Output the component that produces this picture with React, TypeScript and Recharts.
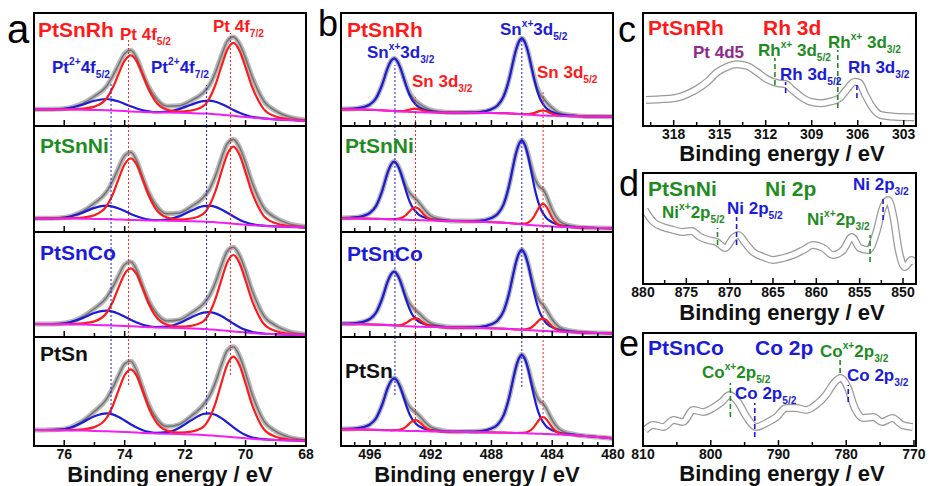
import React from 'react';
import { LineChart, Line, XAxis, YAxis, ReferenceLine } from 'recharts';

const FONT = '"Liberation Sans", Arial, Helvetica, sans-serif';
const RED = '#ff1a1a';
const BLUE = '#1c1cd8';
const GREEN = '#1f8c1f';
const PURPLE = '#8e2a8e';
const MAGENTA = '#f020f0';

// ---- panel a: Pt 4f (binding energy, eV) ----
const ptEnergy = [77, 76.6, 76.2, 75.8, 75.4, 75.0, 74.6, 74.4, 74.2, 74.0, 73.8, 73.6, 73.4, 73.2, 73.0, 72.6, 72.2, 71.8, 71.4, 71.2, 71.0, 70.8, 70.6, 70.4, 70.2, 70.0, 69.8, 69.6, 69.4, 69.0, 68.6, 68.0];

const rhPtBase = [16.7, 16.6, 16.5, 16.4, 16.2, 16.0, 15.7, 15.5, 15.2, 14.9, 14.6, 14.3, 14.0, 13.8, 13.6, 13.4, 13.2, 12.9, 12.5, 12.2, 11.8, 11.3, 10.8, 10.2, 9.6, 9.0, 8.4, 7.9, 7.4, 6.6, 6.0, 5.3];
const rhPtRed = [16.7, 16.6, 16.6, 16.7, 17.3, 19.4, 27.5, 37.9, 52.2, 65.3, 70.6, 64.7, 51.0, 36.2, 25.4, 16.3, 14.5, 15.5, 19.8, 27.5, 41.0, 59.5, 76.5, 83.2, 75.3, 58.6, 40.5, 26.9, 16.9, 9.5, 6.9, 5.3];
const rhPtBlue = [16.7, 16.7, 16.8, 18.1, 21.3, 25.3, 27.0, 26.2, 24.5, 22.1, 19.7, 17.5, 15.7, 14.6, 13.9, 14.4, 16.9, 21.3, 24.9, 25.3, 24.2, 22.0, 19.2, 16.1, 13.3, 11.0, 9.3, 8.3, 7.6, 6.6, 6.0, 5.3];
const rhPtGray = [16.7, 16.7, 16.9, 18.4, 22.4, 29.7, 39.8, 49.6, 61.5, 72.5, 75.7, 67.9, 52.7, 39.0, 29.2, 19.8, 20.2, 25.4, 33.2, 40.6, 53.4, 70.2, 84.9, 89.1, 82.0, 67.6, 50.4, 36.3, 25.1, 15.0, 9.4, 6.0];

const niPtBase = [13.7, 13.6, 13.5, 13.4, 13.3, 13.1, 12.9, 12.7, 12.5, 12.3, 12.1, 11.9, 11.7, 11.6, 11.5, 11.3, 11.1, 10.8, 10.4, 10.1, 9.7, 9.3, 8.8, 8.3, 7.8, 7.3, 6.8, 6.4, 6.1, 5.6, 5.2, 4.7];
const niPtRed = [13.7, 13.6, 13.6, 13.7, 14.5, 16.8, 25.8, 37.3, 53.2, 67.7, 73.7, 67.3, 52.4, 36.2, 24.4, 14.5, 12.5, 13.5, 18.1, 26.3, 40.5, 60.1, 78.1, 85.3, 77.1, 59.7, 40.7, 26.4, 16.1, 8.7, 6.1, 4.7];
const niPtBlue = [13.7, 13.7, 13.9, 15.4, 19.3, 24.1, 26.3, 25.4, 23.5, 20.9, 18.1, 15.7, 13.7, 12.5, 11.9, 12.5, 15.6, 21.2, 25.8, 26.3, 25.1, 22.6, 19.2, 15.6, 12.3, 9.7, 7.9, 6.9, 6.3, 5.6, 5.2, 4.7];
const niPtGray = [13.7, 13.7, 14.0, 15.7, 20.5, 28.8, 40.2, 51.0, 64.2, 76.3, 79.7, 71.1, 54.4, 39.1, 28.3, 18.2, 19.0, 25.4, 34.5, 42.5, 55.9, 73.4, 88.5, 92.6, 84.6, 69.1, 50.8, 35.9, 24.3, 14.2, 8.6, 5.4];

const coPtBase = [13.0, 12.9, 12.8, 12.6, 12.4, 12.1, 11.8, 11.6, 11.3, 11.0, 10.7, 10.4, 10.1, 9.8, 9.6, 9.2, 8.9, 8.5, 8.0, 7.6, 7.2, 6.7, 6.2, 5.6, 5.0, 4.5, 4.0, 3.6, 3.3, 2.8, 2.4, 2.0];
const coPtRed = [13.0, 12.9, 12.9, 12.9, 13.6, 15.6, 24.0, 34.8, 49.6, 63.2, 68.7, 62.6, 48.4, 33.0, 21.8, 12.2, 10.3, 11.2, 15.6, 23.6, 37.8, 57.1, 75.0, 82.0, 73.8, 56.5, 37.6, 23.5, 13.2, 5.9, 3.3, 2.0];
const coPtBlue = [13.0, 13.0, 13.2, 14.8, 18.9, 24.0, 26.3, 25.4, 23.2, 20.3, 17.2, 14.5, 12.3, 10.8, 10.0, 10.5, 13.7, 19.6, 24.4, 24.9, 23.6, 20.9, 17.3, 13.4, 9.8, 7.1, 5.2, 4.1, 3.5, 2.8, 2.4, 2.0];
const coPtGray = [13.0, 13.0, 13.3, 15.1, 20.1, 28.5, 39.5, 49.6, 61.5, 72.5, 75.2, 66.7, 50.6, 36.0, 25.7, 16.0, 17.1, 23.8, 33.0, 40.9, 54.2, 71.3, 86.1, 89.8, 81.6, 66.1, 47.8, 33.0, 21.4, 11.4, 5.8, 2.7];

const snPtBase = [16.0, 15.9, 15.8, 15.6, 15.4, 15.1, 14.8, 14.6, 14.3, 14.0, 13.7, 13.4, 13.1, 12.8, 12.6, 12.2, 11.9, 11.5, 11.0, 10.6, 10.2, 9.7, 9.2, 8.7, 8.2, 7.7, 7.2, 6.8, 6.5, 6.0, 5.7, 5.3];
const snPtRed = [16.0, 15.9, 15.9, 15.9, 16.7, 18.9, 28.0, 39.8, 55.9, 70.7, 76.7, 70.1, 54.7, 38.0, 25.8, 15.4, 13.3, 14.3, 19.1, 27.5, 42.4, 62.9, 81.7, 89.3, 80.7, 62.5, 42.7, 27.8, 17.0, 9.2, 6.7, 5.3];
const snPtBlue = [16.0, 16.0, 16.3, 18.3, 23.5, 29.8, 32.7, 31.6, 29.0, 25.5, 21.8, 18.4, 15.8, 14.1, 13.1, 13.8, 18.1, 25.6, 32.0, 32.7, 31.2, 27.8, 23.3, 18.6, 14.4, 11.0, 8.7, 7.5, 6.8, 6.0, 5.7, 5.3];
const snPtGray = [16.0, 16.1, 16.4, 18.6, 24.8, 34.6, 46.9, 57.8, 70.6, 82.2, 84.8, 75.1, 57.4, 41.3, 29.8, 19.5, 21.5, 29.9, 41.1, 49.6, 63.4, 81.0, 95.8, 99.2, 89.9, 72.8, 53.2, 37.5, 25.3, 14.7, 9.2, 6.0];

// ---- panel b: Sn 3d ----
const snEnergy = [498.0, 497.4, 496.8, 496.4, 496.0, 495.6, 495.2, 494.8, 494.6, 494.4, 494.2, 494.0, 493.8, 493.6, 493.4, 493.2, 493.0, 492.8, 492.6, 492.4, 492.0, 491.4, 490.6, 489.6, 488.8, 488.0, 487.6, 487.2, 486.8, 486.6, 486.4, 486.2, 486.0, 485.8, 485.6, 485.4, 485.2, 485.0, 484.8, 484.6, 484.4, 484.2, 484.0, 483.6, 483.2, 482.6, 481.8, 481.0, 480.0];

const rhSnBase = [16.7, 16.6, 16.5, 16.4, 16.2, 16.0, 15.7, 15.3, 15.1, 14.9, 14.7, 14.5, 14.3, 14.2, 14.1, 14.0, 13.9, 13.8, 13.7, 13.6, 13.5, 13.4, 13.3, 13.2, 13.1, 13.0, 12.9, 12.8, 12.6, 12.4, 12.2, 12.0, 11.8, 11.6, 11.4, 11.2, 11.0, 10.8, 10.6, 10.5, 10.4, 10.3, 10.2, 10.0, 9.9, 9.8, 9.6, 9.5, 9.3];
const rhSnBlue = [17.0, 17.1, 17.8, 19.0, 21.5, 27.6, 41.0, 59.1, 65.3, 67.7, 64.9, 58.3, 49.1, 39.5, 31.5, 25.6, 21.8, 19.1, 17.4, 16.2, 14.8, 13.9, 13.4, 13.6, 14.0, 16.8, 20.5, 29.5, 49.0, 62.5, 75.2, 84.1, 87.7, 83.7, 74.4, 61.3, 47.4, 35.8, 27.3, 21.9, 18.0, 15.6, 14.0, 11.9, 10.8, 10.3, 9.6, 9.5, 9.3];
const rhSnRed = [16.7, 16.6, 16.5, 16.4, 16.2, 16.0, 15.7, 15.3, 15.1, 15.0, 14.9, 14.8, 15.0, 15.6, 16.3, 17.1, 17.3, 16.9, 15.9, 15.0, 13.8, 13.4, 13.3, 13.2, 13.1, 13.0, 12.9, 12.8, 12.6, 12.4, 12.2, 12.0, 11.9, 11.9, 11.9, 12.3, 13.0, 14.1, 15.1, 15.5, 14.9, 13.6, 12.2, 10.5, 10.0, 9.8, 9.6, 9.5, 9.3];
const rhSnGray = [17.0, 17.1, 17.8, 19.0, 21.5, 27.6, 41.0, 59.1, 65.3, 67.8, 65.1, 58.6, 49.8, 40.9, 33.7, 28.7, 25.2, 22.7, 20.6, 18.8, 16.1, 14.4, 13.4, 13.6, 14.0, 16.8, 20.5, 29.5, 49.0, 62.5, 75.2, 84.1, 87.8, 84.0, 74.9, 62.4, 49.4, 39.1, 31.8, 27.9, 24.0, 20.7, 17.8, 13.6, 11.7, 10.6, 9.6, 9.5, 9.3];

const niSnBase = [13.7, 13.6, 13.5, 13.4, 13.3, 13.2, 13.0, 12.8, 12.7, 12.6, 12.5, 12.4, 12.3, 12.2, 12.1, 12.0, 12.0, 11.9, 11.8, 11.7, 11.5, 11.3, 11.0, 10.6, 10.2, 9.8, 9.6, 9.3, 8.9, 8.6, 8.3, 8.0, 7.7, 7.4, 7.1, 6.9, 6.7, 6.5, 6.3, 6.1, 5.9, 5.7, 5.5, 5.2, 4.9, 4.6, 4.3, 4.0, 3.7];
const niSnBlue = [14.0, 14.2, 14.9, 16.3, 19.1, 25.9, 40.7, 60.7, 67.5, 70.3, 67.3, 60.3, 50.4, 39.9, 31.1, 24.7, 20.7, 17.7, 15.8, 14.6, 12.9, 11.9, 11.1, 11.0, 11.2, 14.0, 18.0, 27.7, 49.0, 63.8, 77.7, 87.4, 91.3, 86.8, 76.5, 62.1, 46.8, 34.1, 24.7, 18.6, 14.3, 11.6, 9.7, 7.3, 5.9, 5.1, 4.3, 4.0, 3.7];
const niSnRed = [13.7, 13.6, 13.5, 13.4, 13.3, 13.2, 13.0, 12.9, 12.8, 12.9, 13.1, 13.7, 15.0, 17.3, 20.5, 23.4, 24.7, 23.3, 20.2, 16.8, 12.8, 11.4, 11.0, 10.6, 10.2, 9.8, 9.6, 9.3, 8.9, 8.6, 8.3, 8.2, 8.3, 8.5, 9.3, 11.5, 15.5, 21.0, 26.1, 28.1, 25.7, 20.2, 14.3, 7.4, 5.5, 4.6, 4.3, 4.0, 3.7];
const niSnGray = [14.0, 14.2, 14.9, 16.3, 19.1, 25.9, 40.7, 60.8, 67.6, 70.6, 67.9, 61.6, 53.1, 45.0, 39.5, 36.1, 33.4, 30.1, 26.2, 22.2, 16.2, 13.0, 11.1, 11.0, 11.2, 14.0, 18.0, 27.7, 49.0, 63.8, 77.7, 87.6, 91.9, 87.9, 78.7, 66.7, 55.6, 48.6, 44.5, 42.6, 37.1, 29.6, 22.0, 12.0, 8.0, 5.6, 4.3, 4.0, 3.7];

const coSnBase = [13.0, 12.9, 12.8, 12.7, 12.6, 12.4, 12.2, 11.9, 11.7, 11.5, 11.3, 11.1, 10.9, 10.8, 10.7, 10.5, 10.4, 10.3, 10.2, 10.1, 10.0, 9.8, 9.6, 9.3, 9.0, 8.7, 8.5, 8.3, 8.0, 7.8, 7.6, 7.4, 7.2, 7.0, 6.9, 6.7, 6.6, 6.4, 6.3, 6.1, 6.0, 5.8, 5.7, 5.4, 5.1, 4.8, 4.4, 4.0, 3.7];
const coSnBlue = [13.3, 13.4, 14.1, 15.4, 18.0, 24.2, 38.0, 56.6, 62.8, 65.3, 62.4, 55.8, 46.4, 36.6, 28.5, 22.3, 18.5, 15.7, 14.0, 12.8, 11.3, 10.3, 9.7, 9.7, 10.0, 12.7, 16.5, 25.9, 46.3, 60.5, 73.8, 83.2, 87.0, 82.8, 73.1, 59.4, 44.9, 32.7, 23.9, 18.1, 14.0, 11.4, 9.7, 7.4, 6.1, 5.3, 4.4, 4.0, 3.7];
const coSnRed = [13.0, 12.9, 12.8, 12.7, 12.6, 12.4, 12.2, 11.9, 11.8, 11.7, 11.7, 11.9, 12.7, 14.2, 16.2, 18.1, 18.8, 17.9, 15.7, 13.5, 10.8, 9.9, 9.6, 9.3, 9.0, 8.7, 8.5, 8.3, 8.0, 7.8, 7.6, 7.5, 7.5, 7.6, 8.1, 9.3, 11.6, 14.6, 17.5, 18.5, 17.2, 14.0, 10.7, 6.6, 5.4, 4.8, 4.4, 4.0, 3.7];
const coSnGray = [13.3, 13.4, 14.1, 15.4, 18.0, 24.2, 38.0, 56.6, 62.9, 65.5, 62.8, 56.6, 48.2, 40.0, 34.0, 29.9, 26.9, 24.1, 21.1, 18.2, 13.7, 11.2, 9.7, 9.7, 10.0, 12.7, 16.5, 25.9, 46.3, 60.5, 73.8, 83.3, 87.3, 83.4, 74.3, 62.0, 49.9, 40.9, 35.1, 32.1, 27.6, 22.4, 17.5, 10.6, 7.6, 5.7, 4.4, 4.0, 3.7];

const snSnBase = [16.7, 16.6, 16.5, 16.4, 16.3, 16.1, 15.9, 15.7, 15.6, 15.5, 15.4, 15.3, 15.2, 15.1, 15.1, 15.0, 15.0, 14.9, 14.8, 14.7, 14.6, 14.4, 14.2, 14.0, 13.8, 13.6, 13.5, 13.4, 13.2, 13.1, 13.0, 12.9, 12.8, 12.7, 12.6, 12.5, 12.4, 12.3, 12.2, 12.1, 12.0, 11.9, 11.8, 11.5, 11.2, 10.8, 10.0, 9.0, 7.7];
const snSnBlue = [17.0, 17.1, 17.8, 19.0, 21.5, 27.6, 41.0, 59.0, 65.2, 67.7, 65.0, 58.6, 49.7, 40.2, 32.3, 26.5, 22.8, 20.1, 18.5, 17.3, 15.9, 14.9, 14.3, 14.4, 14.7, 17.5, 21.3, 30.6, 50.7, 64.7, 77.9, 87.2, 91.0, 87.0, 77.5, 64.1, 49.9, 38.1, 29.4, 23.8, 19.8, 17.4, 15.7, 13.5, 12.1, 11.3, 10.0, 9.0, 7.7];
const snSnRed = [16.7, 16.6, 16.5, 16.4, 16.3, 16.1, 15.9, 15.8, 15.7, 15.8, 16.0, 16.4, 17.5, 19.5, 22.4, 24.9, 26.0, 24.8, 22.1, 19.1, 15.7, 14.5, 14.2, 14.0, 13.8, 13.6, 13.5, 13.4, 13.2, 13.1, 13.0, 13.1, 13.2, 13.5, 14.3, 16.0, 19.1, 23.3, 27.2, 28.8, 27.0, 22.9, 18.5, 13.2, 11.6, 10.8, 10.0, 9.0, 7.7];
const snSnGray = [17.0, 17.1, 17.8, 19.0, 21.5, 27.6, 41.0, 59.1, 65.3, 68.0, 65.6, 59.7, 52.0, 44.6, 39.6, 36.4, 33.8, 31.0, 27.8, 24.2, 19.0, 16.0, 14.3, 14.4, 14.7, 17.5, 21.3, 30.6, 50.7, 64.7, 77.9, 87.4, 91.4, 87.8, 79.2, 67.6, 56.6, 49.1, 44.4, 42.5, 37.8, 31.9, 25.9, 17.7, 14.0, 11.8, 10.0, 9.0, 7.7];

// ---- panels c, d, e: raw spectra ----
const rhEnergy = [319.8, 318.9, 318.0, 317.1, 316.5, 315.8, 315.2, 314.5, 313.9, 313.2, 312.6, 311.9, 311.2, 310.7, 310.3, 309.7, 309.1, 308.4, 307.8, 307.2, 306.7, 306.2, 305.9, 305.5, 305.0, 304.5, 303.6, 302.3];
const rhCounts = [26, 26.7, 27.7, 32, 36.7, 44.3, 53.3, 59.3, 61.7, 60, 54.3, 46.7, 42.7, 42, 36.7, 29.3, 24.3, 22.7, 24.3, 27.7, 36.7, 44.3, 43.3, 31, 17.7, 11, 9.3, 8.7];

const niEnergy = [879.8, 878.8, 877.7, 876.5, 875.5, 874.4, 873.4, 872.5, 871.5, 870.5, 869.6, 869.0, 868.2, 867.3, 866.1, 865.0, 863.8, 862.7, 861.5, 860.4, 859.2, 858.1, 856.9, 855.9, 855.0, 854.0, 853.1, 852.3, 851.7, 851.1, 850.5, 849.8, 849.0, 848.6];
const niCounts = [74, 62, 57, 54, 52, 53, 47, 44, 42, 36, 46, 49, 41, 32, 27, 24, 26, 29, 34, 39, 36, 29, 34, 47, 36, 34, 51, 77, 84, 67, 34, 17, 24, 21];

const coEnergy = [809.7, 808.5, 807.0, 805.5, 804.1, 802.6, 801.1, 799.7, 798.4, 797.2, 796.0, 794.7, 793.3, 791.8, 790.3, 788.9, 787.4, 785.9, 784.5, 783.0, 781.8, 780.8, 779.8, 778.8, 777.5, 776.0, 774.7, 773.2, 771.7, 770.2];
const coCounts = [16, 21, 19, 26, 24, 36, 34, 38, 44, 51, 44, 29, 19, 23, 29, 38, 38, 36, 41, 51, 63, 68, 59, 39, 28, 29, 24, 28, 21, 19];

// ---- axis ticks ----
const aTicks = [68, 69, 70, 71, 72, 73, 74, 75, 76, 77];
const aMajor = [68, 70, 72, 74, 76];
const bTicks = [480, 481, 482, 483, 484, 485, 486, 487, 488, 489, 490, 491, 492, 493, 494, 495, 496, 497];
const bMajor = [480, 484, 488, 492, 496];
const cTicks = [303, 304.5, 306, 307.5, 309, 310.5, 312, 313.5, 315, 316.5, 318, 319.5];
const cMajor = [303, 306, 309, 312, 315, 318];
const dTicks = [850, 852.5, 855, 857.5, 860, 862.5, 865, 867.5, 870, 872.5, 875, 877.5, 880];
const dMajor = [850, 855, 860, 865, 870, 875, 880];
const eTicks = [770, 775, 780, 785, 790, 795, 800, 805, 810];
const eMajor = [770, 780, 790, 800, 810];

const zipRows = (energy: number[], cols: Record<string, number[]>) =>
  energy.map((e, i) => {
    const r: Record<string, number> = { e };
    for (const k in cols) r[k] = cols[k][i];
    return r;
  });

const makeTick = (major: number[], showText: boolean) => (props: any) => {
  const { x, y, payload } = props;
  const isMajor = major.includes(payload.value);
  return (
    <g>
      <line x1={x} x2={x} y1={y} y2={y - (isMajor ? 6 : 4)} stroke="#000" strokeWidth={1.5} />
      {showText && isMajor && (
        <text x={x} y={y + 13} textAnchor="middle" fontSize={14} fontWeight="bold" fontFamily={FONT} fill="#111">
          {payload.value}
        </text>
      )}
    </g>
  );
};

type Ref = { x: number; color: string; from?: number; to?: number; dash?: string };

const PAD = 24; // room either side so edge tick labels are not clipped

function Frame(props: {
  left: number; top: number; w: number; h: number;
  domain: [number, number]; rows: any[]; ticks: number[]; major: number[];
  labels: boolean; refs: Ref[]; fit: boolean;
}) {
  const { left, top, w, h, domain, rows, ticks, major, labels, refs, fit } = props;
  return (
    <div style={{ position: 'absolute', left: left - PAD, top }}>
      <LineChart width={w + 2 * PAD} height={h + 26} data={rows} margin={{ top: 0, right: PAD, bottom: 0, left: PAD }}>
        <XAxis
          type="number"
          dataKey="e"
          domain={domain}
          reversed
          allowDataOverflow
          ticks={ticks}
          interval={0}
          height={26}
          axisLine={false}
          tickLine={false}
          tickSize={0}
          tickMargin={0}
          tick={makeTick(major, labels)}
        />
        <YAxis hide domain={[0, h]} allowDataOverflow />
        {fit ? (
          [
            <Line key="g1" dataKey="gray" type="monotone" stroke="#b8b8b8" strokeWidth={5} dot={false} activeDot={false} isAnimationActive={false} />,
            <Line key="g2" dataKey="gray" type="monotone" stroke="#757575" strokeWidth={1.6} dot={false} activeDot={false} isAnimationActive={false} />,
            <Line key="bl" dataKey="blue" type="monotone" stroke={BLUE} strokeWidth={2.2} dot={false} activeDot={false} isAnimationActive={false} />,
            <Line key="rd" dataKey="red" type="monotone" stroke={RED} strokeWidth={2.2} dot={false} activeDot={false} isAnimationActive={false} />,
            <Line key="bs" dataKey="base" type="monotone" stroke={MAGENTA} strokeWidth={2} dot={false} activeDot={false} isAnimationActive={false} />,
          ]
        ) : (
          [
            <Line key="t1" dataKey="v" type="monotone" stroke="#9a9a9a" strokeWidth={8} dot={false} activeDot={false} isAnimationActive={false} />,
            <Line key="t2" dataKey="v" type="monotone" stroke="#ffffff" strokeWidth={5.5} dot={false} activeDot={false} isAnimationActive={false} />,
          ]
        )}
        {refs.map((r, i) =>
          r.from !== undefined ? (
            <ReferenceLine
              key={i}
              segment={[{ x: r.x, y: r.from }, { x: r.x, y: r.to as number }]}
              stroke={r.color}
              strokeWidth={r.dash ? 1.6 : 1}
              strokeDasharray={r.dash || '2 2'}
            />
          ) : (
            <ReferenceLine key={i} x={r.x} stroke={r.color} strokeWidth={1} strokeDasharray="2 2" />
          )
        )}
      </LineChart>
      <div
        style={{
          position: 'absolute', left: PAD - 1, top: -1, width: w + 2, height: h + 2,
          border: '2px solid #000', boxSizing: 'border-box', pointerEvents: 'none',
        }}
      />
    </div>
  );
}

const Sub = ({ children }: any) => (
  <span style={{ fontSize: '0.6em', position: 'relative', top: '0.55em' }}>{children}</span>
);
const Sup = ({ children }: any) => (
  <span style={{ fontSize: '0.6em', position: 'relative', top: '-0.75em' }}>{children}</span>
);

function T({ x, y, size = 17, color = '#000', bold = true, children }: any) {
  return (
    <div
      style={{
        position: 'absolute', left: x, top: y - 0.49 * size, fontSize: size, lineHeight: 1,
        fontWeight: bold ? 'bold' : 'normal', color, whiteSpace: 'nowrap', fontFamily: FONT,
      }}
    >
      {children}
    </div>
  );
}

function Letter({ x, base, size = 36, children }: any) {
  return (
    <div style={{ position: 'absolute', left: x, top: base - 0.85 * size, fontSize: size, lineHeight: 1, fontFamily: FONT, color: '#000' }}>
      {children}
    </div>
  );
}

// title box is tight (line-height 0.8) so it does not run into the tick labels above
function Title({ cx, y }: { cx: number; y: number }) {
  return (
    <div
      style={{
        position: 'absolute', left: cx - 110, width: 220, top: y - 0.39 * 22, textAlign: 'center',
        fontSize: 22, lineHeight: 0.8, fontWeight: 'bold', fontFamily: FONT, color: '#111', whiteSpace: 'nowrap',
      }}
    >
      Binding energy / eV
    </div>
  );
}

const ptRows = [
  zipRows(ptEnergy, { gray: rhPtGray, red: rhPtRed, blue: rhPtBlue, base: rhPtBase }),
  zipRows(ptEnergy, { gray: niPtGray, red: niPtRed, blue: niPtBlue, base: niPtBase }),
  zipRows(ptEnergy, { gray: coPtGray, red: coPtRed, blue: coPtBlue, base: coPtBase }),
  zipRows(ptEnergy, { gray: snPtGray, red: snPtRed, blue: snPtBlue, base: snPtBase }),
];
const snRows = [
  zipRows(snEnergy, { gray: rhSnGray, red: rhSnRed, blue: rhSnBlue, base: rhSnBase }),
  zipRows(snEnergy, { gray: niSnGray, red: niSnRed, blue: niSnBlue, base: niSnBase }),
  zipRows(snEnergy, { gray: coSnGray, red: coSnRed, blue: coSnBlue, base: coSnBase }),
  zipRows(snEnergy, { gray: snSnGray, red: snSnRed, blue: snSnBlue, base: snSnBase }),
];

const rowTops = [13, 126, 232, 337];
const rowHeights = [113, 106, 105, 109];

const ptRefs: Ref[][] = [
  [
    { x: 73.87, color: RED, from: 0, to: 86 }, { x: 70.5, color: RED, from: 0, to: 93 },
    { x: 74.45, color: BLUE, from: 0, to: 44 }, { x: 71.29, color: BLUE, from: 0, to: 41 },
  ],
  [{ x: 73.87, color: RED }, { x: 70.5, color: RED }, { x: 74.45, color: BLUE }, { x: 71.29, color: BLUE }],
  [{ x: 73.87, color: RED }, { x: 70.5, color: RED }, { x: 74.45, color: BLUE }, { x: 71.29, color: BLUE }],
  [
    { x: 73.87, color: RED, from: 61, to: 109 }, { x: 70.5, color: RED, from: 71, to: 109 },
    { x: 74.45, color: BLUE, from: 33, to: 109 }, { x: 71.29, color: BLUE, from: 33, to: 109 },
  ],
];
const snRefs: Ref[][] = [
  [
    { x: 494.35, color: BLUE, from: 0, to: 61 }, { x: 486.0, color: BLUE, from: 0, to: 89 },
    { x: 493.0, color: RED, from: 0, to: 29 }, { x: 484.6, color: RED, from: 0, to: 36 },
  ],
  [{ x: 494.35, color: BLUE }, { x: 486.0, color: BLUE }, { x: 493.0, color: RED }, { x: 484.6, color: RED }],
  [{ x: 494.35, color: BLUE }, { x: 486.0, color: BLUE }, { x: 493.0, color: RED }, { x: 484.6, color: RED }],
  [
    { x: 494.35, color: BLUE, from: 51, to: 109 }, { x: 486.0, color: BLUE, from: 59, to: 109 },
    { x: 493.0, color: RED, from: 23, to: 109 }, { x: 484.6, color: RED, from: 28, to: 109 },
  ],
];

const DASH = '5 3';
const rhRefs: Ref[] = [
  { x: 311.4, color: GREEN, from: 41, to: 68, dash: DASH }, { x: 310.7, color: BLUE, from: 33, to: 44, dash: DASH },
  { x: 307.3, color: GREEN, from: 18, to: 76, dash: DASH }, { x: 306.05, color: BLUE, from: 28, to: 44, dash: DASH },
];
const niRefs: Ref[] = [
  { x: 871.4, color: GREEN, from: 39, to: 56, dash: DASH }, { x: 869.2, color: BLUE, from: 39, to: 67, dash: DASH },
  { x: 853.8, color: GREEN, from: 22, to: 49, dash: DASH }, { x: 852.3, color: BLUE, from: 64, to: 87, dash: DASH },
];
const coRefs: Ref[] = [
  { x: 797.1, color: GREEN, from: 29, to: 63, dash: DASH }, { x: 793.5, color: BLUE, from: 9, to: 43, dash: DASH },
  { x: 780.9, color: GREEN, from: 73, to: 86, dash: DASH }, { x: 779.7, color: BLUE, from: 44, to: 61, dash: DASH },
];

export default function App() {
  return (
    <div style={{ position: 'relative', width: 931, height: 486, background: '#fff', overflow: 'hidden', fontFamily: FONT }}>
      <style>{'body{margin:0;background:#fff}'}</style>

      {ptRows.map((rows, i) => (
        <Frame
          key={'a' + i} left={34} top={rowTops[i]} w={272} h={rowHeights[i]} domain={[68, 77]}
          rows={rows} ticks={aTicks} major={aMajor} labels={i === 3} refs={ptRefs[i]} fit
        />
      ))}
      {snRows.map((rows, i) => (
        <Frame
          key={'b' + i} left={341} top={rowTops[i]} w={272} h={rowHeights[i]} domain={[480, 497.9]}
          rows={rows} ticks={bTicks} major={bMajor} labels={i === 3} refs={snRefs[i]} fit
        />
      ))}
      <Frame left={643} top={13} w={273} h={113} domain={[302.2, 320]} rows={zipRows(rhEnergy, { v: rhCounts })}
        ticks={cTicks} major={cMajor} labels refs={rhRefs} fit={false} />
      <Frame left={643} top={173} w={273} h={111} domain={[848.5, 880]} rows={zipRows(niEnergy, { v: niCounts })}
        ticks={dTicks} major={dMajor} labels refs={niRefs} fit={false} />
      <Frame left={643} top={333} w={273} h={113} domain={[769.7, 810]} rows={zipRows(coEnergy, { v: coCounts })}
        ticks={eTicks} major={eMajor} labels refs={coRefs} fit={false} />

      {/* panel letters */}
      <Letter x={7} base={43} size={40}>a</Letter>
      <Letter x={318} base={37}>b</Letter>
      <Letter x={618} base={43}>c</Letter>
      <Letter x={619} base={197}>d</Letter>
      <Letter x={619} base={357}>e</Letter>

      {/* panel a labels */}
      <T x={38} y={29} size={21} color={RED}>PtSnRh</T>
      <T x={120} y={34} color={RED}>Pt 4f<Sub>5/2</Sub></T>
      <T x={213} y={26} color={RED}>Pt 4f<Sub>7/2</Sub></T>
      <T x={52} y={67} color={BLUE}>Pt<Sup>2+</Sup>4f<Sub>5/2</Sub></T>
      <T x={151} y={67} color={BLUE}>Pt<Sup>2+</Sup>4f<Sub>7/2</Sub></T>
      <T x={40} y={145} size={21} color={GREEN}>PtSnNi</T>
      <T x={40} y={252} size={21} color={BLUE}>PtSnCo</T>
      <T x={40} y={353} size={21} color="#111">PtSn</T>

      {/* panel b labels */}
      <T x={347} y={29} size={21} color={RED}>PtSnRh</T>
      <T x={367} y={52} color={BLUE}>Sn<Sup>x+</Sup>3d<Sub>3/2</Sub></T>
      <T x={412} y={81} color={RED}>Sn 3d<Sub>3/2</Sub></T>
      <T x={500} y={29} color={BLUE}>Sn<Sup>x+</Sup>3d<Sub>5/2</Sub></T>
      <T x={537} y={72} color={RED}>Sn 3d<Sub>5/2</Sub></T>
      <T x={345} y={145} size={21} color={GREEN}>PtSnNi</T>
      <T x={347} y={253} size={21} color={BLUE}>PtSnCo</T>
      <T x={345} y={370} size={21} color="#111">PtSn</T>

      {/* panel c labels */}
      <T x={648} y={27} size={21} color={RED}>PtSnRh</T>
      <T x={763} y={27} size={21} color={RED}>Rh 3d</T>
      <T x={693} y={52} color={PURPLE}>Pt 4d5</T>
      <T x={758} y={50} color={GREEN}>Rh<Sup>x+</Sup> 3d<Sub>5/2</Sub></T>
      <T x={828} y={42} color={GREEN}>Rh<Sup>x+</Sup> 3d<Sub>3/2</Sub></T>
      <T x={780} y={74} color={BLUE}>Rh 3d<Sub>5/2</Sub></T>
      <T x={848} y={67} color={BLUE}>Rh 3d<Sub>3/2</Sub></T>

      {/* panel d labels */}
      <T x={648} y={188} size={21} color={GREEN}>PtSnNi</T>
      <T x={765} y={188} size={21} color={GREEN}>Ni 2p</T>
      <T x={662} y={212} color={GREEN}>Ni<Sup>x+</Sup>2p<Sub>5/2</Sub></T>
      <T x={727} y={208} color={BLUE}>Ni 2p<Sub>5/2</Sub></T>
      <T x={807} y={219} color={GREEN}>Ni<Sup>x+</Sup>2p<Sub>3/2</Sub></T>
      <T x={853} y={184} color={BLUE}>Ni 2p<Sub>3/2</Sub></T>

      {/* panel e labels */}
      <T x={648} y={347} size={21} color={BLUE}>PtSnCo</T>
      <T x={755} y={347} size={21} color={BLUE}>Co 2p</T>
      <T x={820} y={351} color={GREEN}>Co<Sup>x+</Sup>2p<Sub>3/2</Sub></T>
      <T x={702} y={372} color={GREEN}>Co<Sup>x+</Sup>2p<Sub>5/2</Sub></T>
      <T x={735} y={393} color={BLUE}>Co 2p<Sub>5/2</Sub></T>
      <T x={847} y={375} color={BLUE}>Co 2p<Sub>3/2</Sub></T>

      <Title cx={170} y={475} />
      <Title cx={477} y={475} />
      <Title cx={782} y={154} />
      <Title cx={782} y={313} />
      <Title cx={782} y={474} />
    </div>
  );
}
